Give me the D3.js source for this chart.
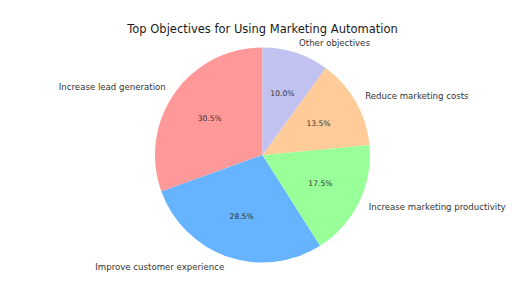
<!DOCTYPE html>
<html>
<head>
<meta charset="utf-8">
<script src="https://cdn.jsdelivr.net/npm/d3@7"></script>
<style>
  body { margin: 0; background: #fff; }
  text { font-family: "DejaVu Sans", sans-serif; }
</style>
</head>
<body>
<div id="chart"></div>
<script>
// chart data
var categories = ["Increase lead generation", "Improve customer experience",
    "Increase marketing productivity", "Reduce marketing costs", "Other objectives"];
var shares = [30.5, 28.5, 17.5, 13.5, 10.0];
var sliceColors = ["#ff9999", "#66b3ff", "#99ff99", "#ffcc99", "#c2c2f0"];
var chartTitle = "Top Objectives for Using Marketing Automation";

var totalWidth = 512, totalHeight = 307;
var cx = 262.5, cy = 155, radius = 107.5;

var svg = d3.select("#chart").append("svg")
    .attr("width", totalWidth)
    .attr("height", totalHeight);

svg.append("text")
    .attr("x", cx)
    .attr("y", 32.5)
    .attr("text-anchor", "middle")
    .attr("font-size", 11.5)
    .attr("fill", "#1a1a1a")
    .text(chartTitle);

var data = categories.map(function(c, i) {
    return { label: c, value: shares[i], color: sliceColors[i] };
});

// matplotlib style: start at top, go counter-clockwise
var pie = d3.pie()
    .sort(null)
    .value(function(d) { return d.value; })
    .startAngle(0)
    .endAngle(-2 * Math.PI);

var arcs = pie(data);
var arc = d3.arc().innerRadius(0).outerRadius(radius);

var g = svg.append("g").attr("transform", "translate(" + cx + "," + cy + ")");

g.selectAll("path")
    .data(arcs)
    .enter()
    .append("path")
    .attr("d", arc)
    .attr("fill", function(d) { return d.data.color; });

function midPoint(d, k) {
    var a = (d.startAngle + d.endAngle) / 2;
    return [Math.sin(a) * radius * k, -Math.cos(a) * radius * k];
}

g.selectAll("text.pct")
    .data(arcs)
    .enter()
    .append("text")
    .attr("class", "pct")
    .attr("x", function(d) { return midPoint(d, 0.6)[0]; })
    .attr("y", function(d) { return midPoint(d, 0.6)[1]; })
    .attr("dy", "0.35em")
    .attr("text-anchor", "middle")
    .attr("font-size", 7.6)
    .attr("fill", "#333")
    .text(function(d) { return d.data.value.toFixed(1) + "%"; });

g.selectAll("text.lbl")
    .data(arcs)
    .enter()
    .append("text")
    .attr("class", "lbl")
    .attr("x", function(d) { return midPoint(d, 1.1)[0]; })
    .attr("y", function(d) { return midPoint(d, 1.1)[1]; })
    .attr("dy", "0.35em")
    .attr("text-anchor", function(d) { return midPoint(d, 1.1)[0] > 0 ? "start" : "end"; })
    .attr("font-size", 8.6)
    .attr("fill", "#333")
    .text(function(d) { return d.data.label; });
</script>
</body>
</html>
